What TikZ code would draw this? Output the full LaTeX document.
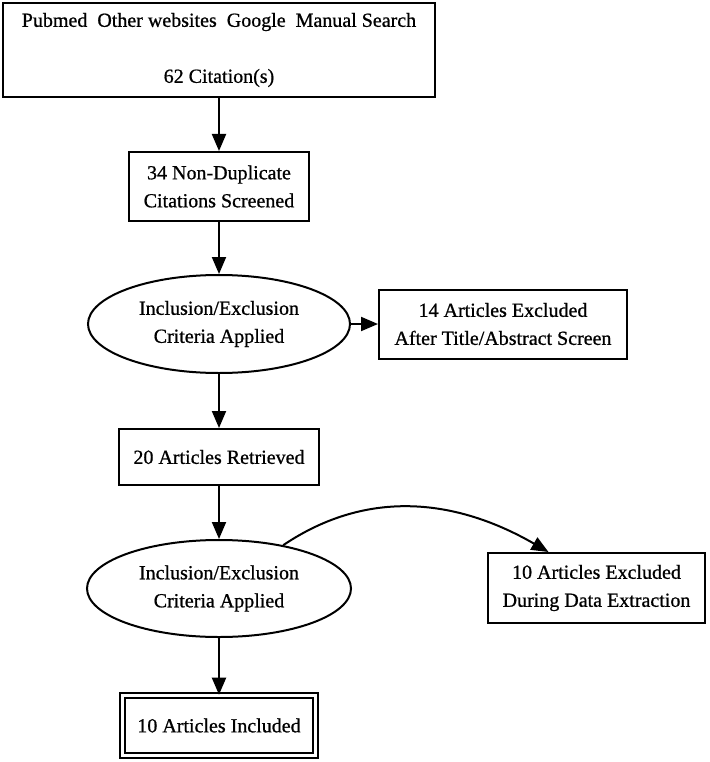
\documentclass[tikz,border=0pt]{standalone}
\usepackage{fontspec}
\setmainfont{Liberation Serif}[FakeBold=0.8]
\usetikzlibrary{
    arrows.meta,
    positioning,
    shapes.geometric
}
\tikzset{
    every picture/.style = {
        > = {Triangle[length=17pt, width=14pt]},
        line width = 2pt
    },
    every node/.style = {
        inner sep = 1pt,
        align = center,
        font = \fontsize{20}{28}\selectfont
    },
    box/.style = {
        draw,
        rectangle
    },
    oval/.style = {
        draw,
        ellipse,
        inner sep = 0pt
    },
    final/.style = {
        draw,
        rectangle,
        double,
        line width = 1.6pt,
        double distance = 3pt
    }
}

\begin{document}
\begin{tikzpicture}[x = 1pt, y = 1pt]
    \useasboundingbox (0, 0) rectangle (709, -762);
    \node[box, minimum width = 432pt, minimum height = 94pt] (search) at (219, -50)
        {Pubmed\ \ Other websites\ \ Google\ \ Manual Search\\[28pt]62 Citation(s)};
    \node[box, minimum width = 180pt, minimum height = 69pt] (screen) at (219, -186.5)
        {34 Non-Duplicate\\Citations Screened};
    \node[oval, minimum width = 262pt, minimum height = 98pt] (crit1) at (219, -324)
        {Inclusion/Exclusion\\Criteria Applied};
    \node[box, minimum width = 248pt, minimum height = 69pt] (excl1) at (503, -324)
        {14 Articles Excluded\\After Title/Abstract Screen};
    \node[box, minimum width = 200pt, minimum height = 56pt] (retrieved) at (219, -457)
        {20 Articles Retrieved};
    \node[oval, minimum width = 264pt, minimum height = 97pt] (crit2) at (219, -588.5)
        {Inclusion/Exclusion\\Criteria Applied};
    \node[box, minimum width = 217pt, minimum height = 70pt] (excl2) at (596.5, -588)
        {10 Articles Excluded\\During Data Extraction};
    \node[final, minimum width = 193pt, minimum height = 60pt] (included) at (219, -725.5)
        {10 Articles Included};
    \path[->] (search) edge (screen);
    \path[->] (screen) edge (crit1);
    \path[->] (crit1) edge (excl1);
    \path[->] (crit1) edge (retrieved);
    \path[->] (retrieved) edge (crit2);
    \path[->] (crit2.34) edge[out = 34, in = 150] ([xshift = -48pt]excl2.north);
    \path[->] (crit2) edge (included);
\end{tikzpicture}
\end{document}
